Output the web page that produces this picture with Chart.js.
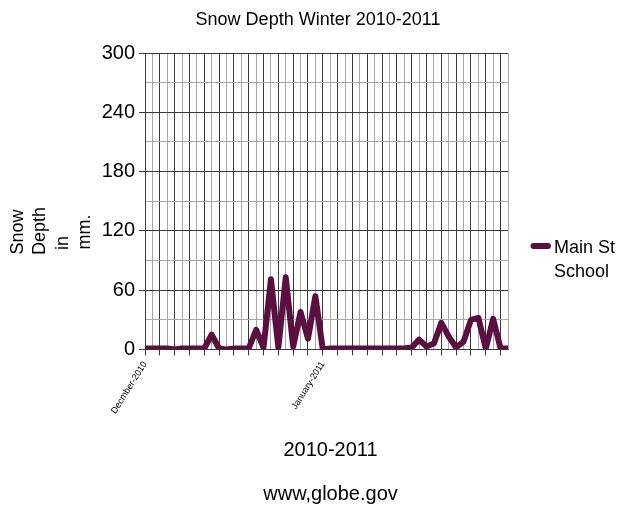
<!DOCTYPE html>
<html>
<head>
<meta charset="utf-8">
<title>Snow Depth Winter 2010-2011</title>
<script src="https://cdn.jsdelivr.net/npm/chart.js@4/dist/chart.umd.min.js"></script>
<style>
  html, body { margin: 0; padding: 0; background: #ffffff; }
  canvas { display: block; }
</style>
</head>
<body>
<canvas id="snowChart" width="628" height="508"></canvas>
<script>
// Snow depth readings (mm) at Main St School, one value per reading
const snowDepth = [
  1, 1, 1, 1, 0, 1, 1, 1, 1, 15,
  1, 0, 1, 1, 1, 20, 2, 71, 2, 73,
  3, 38, 11, 54, 0, 1, 1, 1, 1, 1,
  1, 1, 1, 1, 1, 1, 2, 10, 3, 6,
  27, 13, 2, 8, 30, 32, 1, 31, 1, 1
];
// one category per reading
const readings = snowDepth.map((_, i) => i + 1);

// month labels shown under the x axis and the reading they sit on
const monthTicks = ['Decmber-2010', 'January-2011'];
const monthTickIndex = [0, 24];

// labelled values on the y axis (grid every 30)
const yTicks = [0, 60, 120, 180, 240, 300];

const chartTitle = 'Snow Depth Winter 2010-2011';
const xTitle = '2010-2011';
const footerText = 'www,globe.gov';
const yTitleLines = ['Snow', 'Depth', 'in', 'mm.'];
const seriesLines = ['Main St', 'School'];

const FONT = '"Liberation Sans", Arial, Helvetica, sans-serif';
const LINE_COLOR = '#5b0f40';
const MAJOR = '#3a3a3a';
const MINOR = '#a8a8a8';
const NONE = 'rgba(0,0,0,0)';

// titles, y-axis caption and the legend drawn as canvas text
const textLayer = {
  id: 'textLayer',
  afterDraw(chart) {
    const ctx = chart.ctx;
    ctx.save();
    ctx.fillStyle = '#000';
    ctx.textAlign = 'center';
    ctx.textBaseline = 'alphabetic';

    ctx.font = '18px ' + FONT;
    ctx.fillText(chartTitle, 318, 24.5);

    ctx.font = '20px ' + FONT;
    ctx.fillText(xTitle, 330.5, 456);
    ctx.fillText(footerText, 330.5, 500);

    // wrapped y-axis caption, one rotated line per word
    const captionCentres = [232, 231, 243, 232];
    ctx.font = '18px ' + FONT;
    yTitleLines.forEach((line, i) => {
      ctx.save();
      ctx.translate(23 + i * 22.3, captionCentres[i]);
      ctx.rotate(-Math.PI / 2);
      ctx.fillText(line, 0, 0);
      ctx.restore();
    });

    // legend
    ctx.strokeStyle = LINE_COLOR;
    ctx.lineWidth = 6;
    ctx.lineCap = 'round';
    ctx.beginPath();
    ctx.moveTo(533.5, 246);
    ctx.lineTo(548, 246);
    ctx.stroke();
    ctx.textAlign = 'left';
    ctx.font = '18px ' + FONT;
    seriesLines.forEach((line, i) => ctx.fillText(line, 554, 253 + i * 23.5));
    ctx.restore();
  }
};

new Chart(document.getElementById('snowChart'), {
  type: 'line',
  data: {
    labels: readings,
    datasets: [{
      label: seriesLines.join(' '),
      data: snowDepth,
      borderColor: LINE_COLOR,
      backgroundColor: LINE_COLOR,
      borderWidth: 6,
      borderJoinStyle: 'round',
      borderCapStyle: 'butt',
      pointRadius: 0,
      pointHoverRadius: 0,
      tension: 0,
      fill: false
    }]
  },
  options: {
    responsive: false,
    animation: false,
    devicePixelRatio: 1,
    layout: { padding: { top: 53, right: 120, left: 0, bottom: 0 } },
    plugins: {
      legend: { display: false },
      tooltip: { enabled: false },
      title: { display: false }
    },
    scales: {
      x: {
        type: 'category',
        offset: false,
        grid: {
          offset: false,
          lineWidth: 1,
          color: c => (c.index % 2 ? MINOR : MAJOR),
          drawTicks: true,
          tickLength: 6,
          tickColor: c => (c.index % 2 ? NONE : MAJOR)
        },
        border: { display: true, color: MAJOR, width: 1 },
        ticks: {
          autoSkip: false,
          maxRotation: 58,
          minRotation: 58,
          padding: 4,
          color: '#000',
          font: { family: FONT, size: 9 },
          callback: (value, index) => {
            const k = monthTickIndex.indexOf(index);
            return k < 0 ? '' : monthTicks[k];
          }
        },
        afterFit: scale => { scale.height = 508 - 349.5; }
      },
      y: {
        min: 0,
        max: 300,
        grid: {
          lineWidth: 1,
          color: c => (c.tick && c.tick.value % 60 ? MINOR : MAJOR),
          drawTicks: true,
          tickLength: 6,
          tickColor: c => (c.tick && c.tick.value % 60 ? NONE : MAJOR)
        },
        border: { display: true, color: MAJOR, width: 1 },
        ticks: {
          stepSize: 30,
          autoSkip: false,
          padding: 4,
          color: '#000',
          font: { family: FONT, size: 20 },
          callback: value => (yTicks.includes(value) ? String(value) : '')
        },
        afterFit: scale => { scale.width = 145; }
      }
    }
  },
  plugins: [textLayer]
});
</script>
</body>
</html>
